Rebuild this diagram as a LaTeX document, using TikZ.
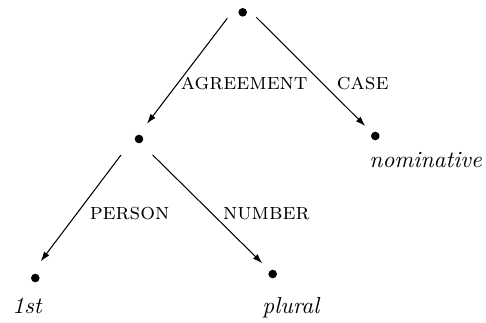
\documentclass[tikz,border=0pt]{standalone}
\usetikzlibrary{arrows.meta}
\begin{document}
\begin{tikzpicture}[x=0.43pt,y=-0.43pt,
  dot/.style={circle,fill=black,inner sep=0pt,minimum size=3.7pt},
  feat/.style={anchor=base west,inner sep=0pt,font=\scshape},
  val/.style={anchor=base west,inner sep=0pt,font=\itshape},
  edge/.style={line width=0.45pt,-{Latex[length=4.2pt,width=2.8pt]}}]
\useasboundingbox (0,0) rectangle (486,323);
\node[dot] (root) at (242.7,12.3) {};
\node[dot] (agr) at (139,139) {};
\node[dot] (nom) at (375.3,136) {};
\node[dot] (fst) at (35.3,278) {};
\node[dot] (pl) at (272.7,274) {};
\node[val] (tnom) at (369,167) {nominative};
\node[val] (tfst) at (12,313) {1st};
\node[val] (tpl) at (262,313) {plural};
\node[feat] (lagr) at (180.3,89.3) {agreement};
\node[feat] (lcase) at (336.5,89.3) {case};
\node[feat] (lper) at (89.3,219) {person};
\node[feat] (lnum) at (222.7,219) {number};
\draw[edge] ([shift={(-15.4,6)}]root.center) -- ([shift={(8,-15.3)}]agr.center);
\draw[edge] ([shift={(13.6,5)}]root.center) -- ([shift={(-10,-10)}]nom.center);
\draw[edge] ([shift={(-18,16)}]agr.center) -- ([shift={(5.4,-16.6)}]fst.center);
\draw[edge] ([shift={(13.7,16)}]agr.center) -- ([shift={(-10.4,-10.7)}]pl.center);
\end{tikzpicture}
\end{document}
